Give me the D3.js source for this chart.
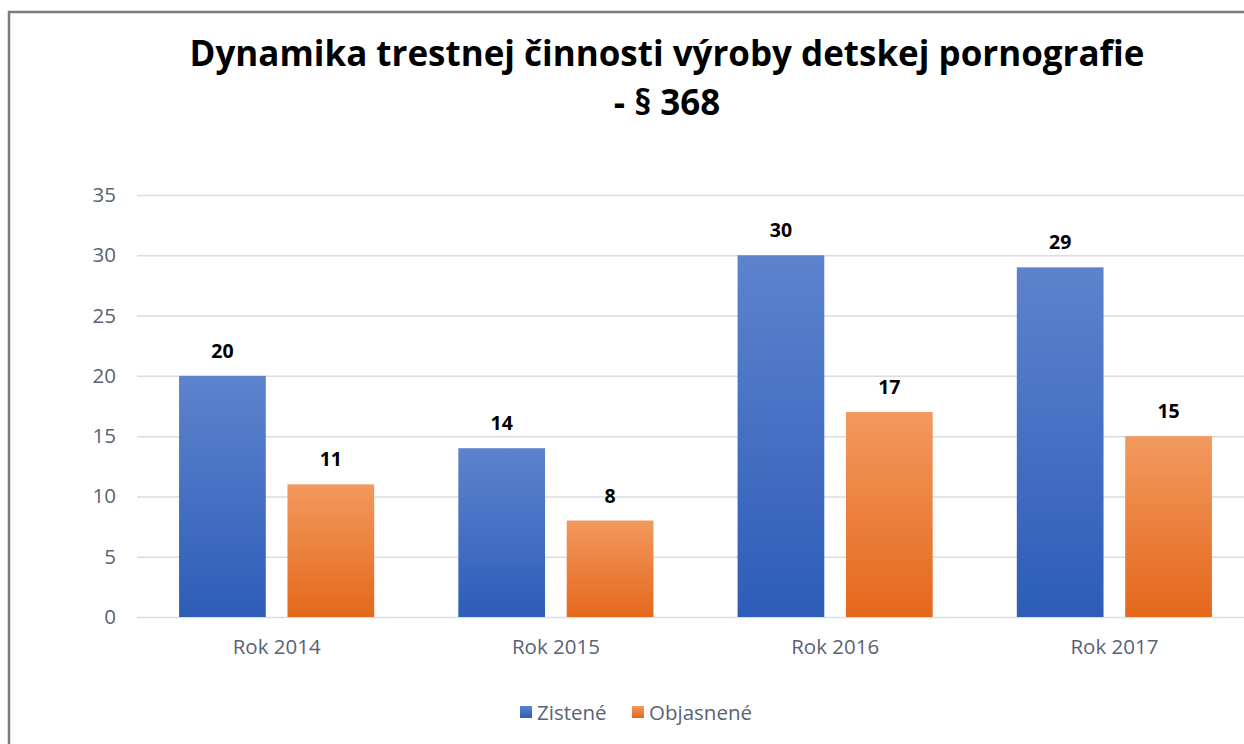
<!DOCTYPE html>
<html>
<head>
<meta charset="utf-8">
<script src="https://cdn.jsdelivr.net/npm/d3@7"></script>
<style>
body{margin:0;background:#fff;}
svg{display:block;font-family:"Open Sans","Noto Sans",sans-serif;}
</style>
</head>
<body>
<svg id="chart" width="1244" height="744"></svg>
<script>
// data
const categories = ["Rok 2014","Rok 2015","Rok 2016","Rok 2017"]
const seriesNames = ["Zistené","Objasnené"]
const zistene = [20,14,30,29]
const objasnene = [11,8,17,15]
const yTicks = [0,5,10,15,20,25,30,35]

const svg = d3.select("#chart")
const W = 1244, H = 744
const mLeft = 137, mRight = 1254, mTop = 195, mBottom = 617
const axisGrey = "#5a6274"

// frame
svg.append("path")
.attr("d","M9,744V12H1244")
.attr("fill","none")
.attr("stroke","#7b7b7b")
.attr("stroke-width",2.5)

// gradients
const defs = svg.append("defs")
const grads = [["gBlue","#5d83cd","#2d5db8"],["gOrange","#f2995f","#e4681b"]]
grads.forEach(g=>{
  const lg = defs.append("linearGradient").attr("id",g[0]).attr("x1",0).attr("y1",0).attr("x2",0).attr("y2",1)
  lg.append("stop").attr("offset","0%").attr("stop-color",g[1])
  lg.append("stop").attr("offset","100%").attr("stop-color",g[2])
})

// title
const title = svg.append("text")
.attr("text-anchor","middle")
.attr("font-weight","bold")
.attr("fill","#000")
title.append("tspan").attr("x",667).attr("y",66).text("Dynamika trestnej činnosti výroby detskej pornografie")
title.append("tspan").attr("x",667).attr("y",115).text("- § 368")
// fit title width to the reference width
let fs = 34
title.attr("font-size",fs)
const w0 = title.select("tspan").node().getComputedTextLength()
fs = fs*955/w0
title.attr("font-size",fs)

const x0 = d3.scaleBand().domain(categories).range([mLeft,mRight])
const bw = x0.bandwidth()
// excel style: gap width 97%, overlap -25%
const barW = bw/(2+0.25+0.97)
const y = d3.scaleLinear().domain([0,35]).range([mBottom,mTop])

// gridlines
const yAxis = d3.axisLeft(y).tickValues(yTicks).tickSize(-(W-mLeft)).tickPadding(21)
const gy = svg.append("g").attr("transform",`translate(${mLeft},0)`).call(yAxis)
gy.select(".domain").remove()
gy.selectAll(".tick line").attr("stroke","#d9dde3").attr("stroke-width",1.5)
gy.selectAll(".tick text").attr("fill",axisGrey).attr("font-size",20.5).attr("font-family","Open Sans")

// category axis
const xAxis = d3.axisBottom(x0).tickSize(0).tickPadding(22)
const gx = svg.append("g").attr("transform",`translate(0,${mBottom})`).call(xAxis)
gx.select(".domain").remove()
gx.selectAll(".tick text").attr("fill",axisGrey).attr("font-size",20.5).attr("font-family","Open Sans")

const rows = categories.map((c,i)=>({cat:c, vals:[zistene[i],objasnene[i]]}))
const groups = svg.append("g").selectAll("g").data(rows).join("g")
.attr("transform",d=>`translate(${x0(d.cat)+(bw-barW*2.25)/2},0)`)

groups.selectAll("rect").data(d=>d.vals.map((v,k)=>({k,v})))
.join("rect")
.attr("x",d=>d.k*barW*1.25)
.attr("width",barW)
.attr("y",d=>y(d.v))
.attr("height",d=>mBottom-y(d.v))
.attr("fill",d=>d.k==0?"url(#gBlue)":"url(#gOrange)")

groups.selectAll("text.lbl").data(d=>d.vals.map((v,k)=>({k,v})))
.join("text").attr("class","lbl")
.attr("x",d=>d.k*barW*1.25+barW/2)
.attr("y",d=>y(d.v)-18)
.attr("text-anchor","middle")
.attr("font-weight","bold")
.attr("font-size",19.5)
.attr("fill","#000")
.text(d=>d.v)

// legend
const legend = svg.append("g")
const items = [{n:seriesNames[0],x:520},{n:seriesNames[1],x:632}]
items.forEach((it,i)=>{
  legend.append("rect").attr("x",it.x).attr("y",706).attr("width",12).attr("height",12)
  .attr("fill",i==0?"url(#gBlue)":"url(#gOrange)")
  legend.append("text").attr("x",it.x+17).attr("y",720).attr("font-size",20.5)
  .attr("fill",axisGrey).text(it.n)
})
</script>
</body>
</html>
